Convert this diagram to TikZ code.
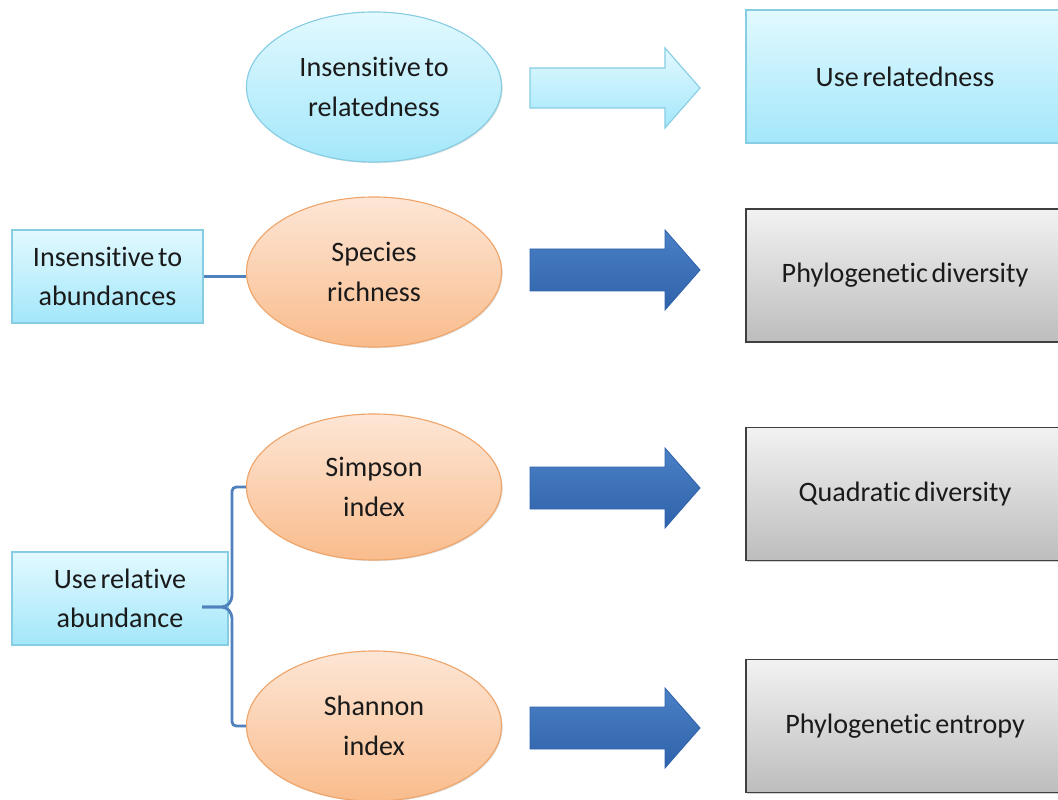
\documentclass[tikz,border=0pt]{standalone}
\usepackage{fontspec}
\setmainfont{Carlito}[WordSpace=0.6,Ligatures=NoCommon]
\usetikzlibrary{shapes.geometric,shadows}
\definecolor{cyanlite}{HTML}{E2F9FF}
\definecolor{cyandeep}{HTML}{A3E7FA}
\definecolor{cyanline}{HTML}{86CDE3}
\definecolor{peachlite}{HTML}{FDE6D6}
\definecolor{peachdeep}{HTML}{F9BC8C}
\definecolor{peachline}{HTML}{EFA56A}
\definecolor{greylite}{HTML}{F2F2F2}
\definecolor{greydeep}{HTML}{BDBDBD}
\definecolor{greyline}{HTML}{3F3F3F}
\definecolor{navylite}{HTML}{4A80C6}
\definecolor{navydeep}{HTML}{2F63AB}
\definecolor{linkblue}{HTML}{4F81BD}
\definecolor{inktext}{HTML}{1A1A1A}
\tikzset{
 txt/.style={font=\fontsize{20}{28}\selectfont, text=inktext, align=center, inner sep=0pt},
 lightshadow/.style={drop shadow={opacity=0.25,shadow xshift=0.8pt,shadow yshift=-0.8pt}},
 cyanoval/.style={txt, ellipse, draw=cyanline, line width=0.8pt, top color=cyanlite, bottom color=cyandeep, minimum width=6.375cm, minimum height=3.75cm, lightshadow},
 peachoval/.style={txt, ellipse, draw=peachline, line width=0.8pt, top color=peachlite, bottom color=peachdeep, minimum width=6.375cm, minimum height=3.75cm, lightshadow},
 cyanbox/.style={txt, rectangle, draw=cyanline, line width=0.8pt, top color=cyanlite, bottom color=cyandeep, minimum height=2.325cm, lightshadow},
 widebox/.style={minimum width=7.95cm, minimum height=3.325cm},
 greybox/.style={txt, rectangle, draw=greyline, line width=1pt, top color=greylite, bottom color=greydeep, widebox, drop shadow={opacity=0.35,shadow xshift=1pt,shadow yshift=-1pt}},
 litearrow/.style={draw=cyanline, line width=0.8pt, top color=cyanlite, bottom color=cyandeep},
 darkarrow/.style={draw=navydeep, line width=0.6pt, top color=navylite, bottom color=navydeep},
 link/.style={draw=linkblue, line width=2pt}
}
\begin{document}
\begin{tikzpicture}[x=0.025cm,y=-0.025cm]
\useasboundingbox (0,0) rectangle (1058,800);
\clip (0,0) rectangle (1058,800);
%ellipses (colonne du milieu)
\node[cyanoval] (relat) at (374,87) {Insensitive to\\relatedness};
\node[peachoval] (rich) at (374,272) {Species\\richness};
\node[peachoval,minimum height=3.65cm] (simp) at (374,487) {Simpson\\index};
\node[peachoval] (shan) at (374,726) {Shannon\\index};
%rectangles (gauche)
\node[cyanbox,minimum width=4.775cm] (insab) at (107.5,276.5) {Insensitive to\\abundances};
\node[cyanbox,minimum width=5.4cm] (relab) at (120,598.5) {Use relative\\abundance};
%rectangles (droite)
\node[cyanbox,widebox] (userel) at (905,76.5) {Use relatedness};
\node[greybox] (phyd) at (905,275.5) {Phylogenetic diversity};
\node[greybox] (quad) at (905,494) {Quadratic diversity};
\node[greybox] (phye) at (905,726) {Phylogenetic entropy};
%fleches
\begin{scope}[shift={(530,88)}]
 \draw[litearrow] (0,-20)--(135,-20)--(135,-40)--(170,0)--(135,40)--(135,20)--(0,20)--cycle;
\end{scope}
\foreach \y in {270,488,728}{
 \begin{scope}[shift={(530,\y)}]
 \draw[darkarrow] (0,-21)--(135,-21)--(135,-40)--(170,0)--(135,40)--(135,21)--(0,21)--cycle;
 \end{scope}}
%liens
\draw[link] (insab.east)--(insab.east -| rich.west);
\coordinate (tip) at (202,607);
\draw[link,rounded corners=3] (simp.west)--(232,487)--(232,600)--(226,607)--(tip);
\draw[link,rounded corners=3] (tip)--(226,607)--(232,614)--(232,726)--(shan.west);
\end{tikzpicture}
\end{document}
